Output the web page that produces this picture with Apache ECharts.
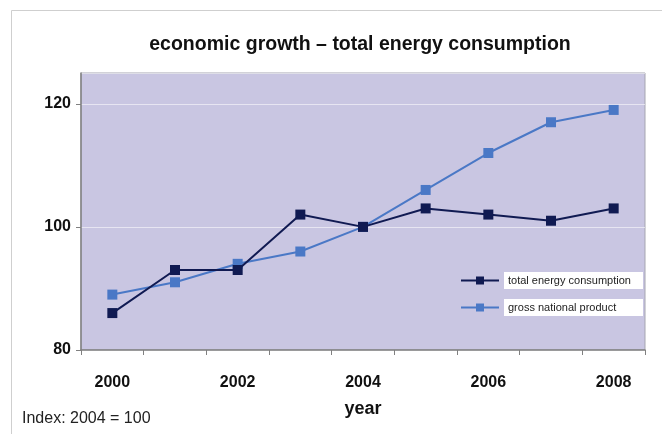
<!DOCTYPE html>
<html>
<head>
<meta charset="utf-8">
<script src="https://cdn.jsdelivr.net/npm/echarts@6/dist/echarts.min.js"></script>
<style>html,body{margin:0;padding:0;background:#fff}#c{width:662px;height:434px}</style>
</head>
<body>
<div id="c"></div>
<script>
const years = ['2000','2001','2002','2003','2004','2005','2006','2007','2008'];
const energy = [86, 93, 93, 102, 100, 103, 102, 101, 103];
const gnp = [89, 91, 94, 96, 100, 106, 112, 117, 119];
const seriesNames = ['total energy consumption', 'gross national product'];
const titleText = 'economic growth \u2013 total energy consumption';
const xName = 'year';
const note = 'Index: 2004 = 100';

const narrow = '"Liberation Sans Narrow", "Arial Narrow", "Liberation Sans", sans-serif';
const chart = echarts.init(document.getElementById('c'));
chart.setOption({
  animation: false,
  backgroundColor: '#fff',
  title: {
    text: titleText, left: 355, top: 30, textAlign: 'center',
    textStyle: { fontFamily: narrow, fontSize: 19.5, fontWeight: 'bold', color: '#111' }
  },
  graphic: [
    { type: 'rect', shape: { x: 11.5, y: 10.5, width: 700, height: 500 }, style: { fill: 'none', stroke: '#cfcfcf', lineWidth: 1 }, z: -1 },
    { type: 'text', left: 22, top: 411, style: { text: note, font: '16px ' + narrow, fill: '#222' } }
  ],
  legend: {
    orient: 'vertical', left: 460, top: 272, itemGap: 10, padding: 0,
    itemWidth: 38, itemHeight: 10,
    data: seriesNames,
    textStyle: { fontFamily: narrow, fontSize: 11, color: '#222', backgroundColor: '#fff', width: 131, padding: [3, 4, 3, 4] }
  },
  grid: {
    left: 81, right: 17, top: 73, bottom: 84,
    show: true, backgroundColor: '#c9c6e2', borderColor: '#a5a5b0', borderWidth: 1
  },
  xAxis: {
    type: 'category', data: years, boundaryGap: true,
    name: xName, nameLocation: 'middle', nameGap: 50,
    nameTextStyle: { fontFamily: narrow, fontSize: 18, fontWeight: 'bold', color: '#111' },
    axisLine: { lineStyle: { color: '#808080', width: 1.5 } },
    axisTick: { show: true, length: 5, interval: 0, lineStyle: { color: '#808080' } },
    axisLabel: { interval: 1, margin: 25, fontFamily: narrow, fontSize: 16, fontWeight: 'bold', color: '#111' },
    splitLine: { show: false }
  },
  yAxis: {
    type: 'value', min: 80, max: 125, interval: 20,
    axisLine: { show: true, lineStyle: { color: '#808080', width: 1.5 } },
    axisTick: { show: true, length: 5, lineStyle: { color: '#808080' } },
    axisLabel: { showMaxLabel: false, margin: 10, fontFamily: narrow, fontSize: 16, fontWeight: 'bold', color: '#111' },
    splitLine: { show: true, lineStyle: { color: 'rgba(255,255,255,0.55)', width: 1 } }
  },
  series: [
    {
      name: seriesNames[0], type: 'line', data: energy,
      symbol: 'rect', symbolSize: 10,
      lineStyle: { color: '#101a52', width: 2 },
      itemStyle: { color: '#101a52' }, z: 3
    },
    {
      name: seriesNames[1], type: 'line', data: gnp,
      symbol: 'rect', symbolSize: 10,
      lineStyle: { color: '#4a78c6', width: 2 },
      itemStyle: { color: '#4a78c6' }, z: 2
    }
  ]
});
</script>
</body>
</html>
